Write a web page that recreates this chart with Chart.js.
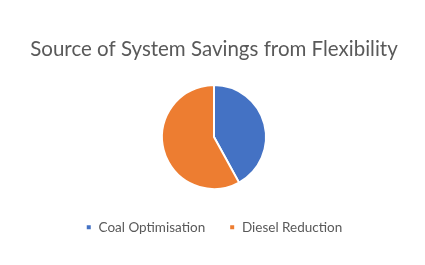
<!DOCTYPE html>
<html>
<head>
<meta charset="utf-8">
<script src="https://cdn.jsdelivr.net/npm/chart.js@4/dist/chart.umd.min.js"></script>
<style>
  html, body { margin: 0; padding: 0; background: #fff; }
  #wrap { width: 425px; height: 265px; }
</style>
</head>
<body>
<div id="wrap"><canvas id="grafico"></canvas></div>
<script>
const categorias = ["Coal Optimisation", "Diesel Reduction"];
const economias = [42, 58];
const cores = ["#4472C4", "#ED7D31"];

const ctx = document.getElementById("grafico").getContext("2d");

new Chart(ctx, {
  type: "pie",
  data: {
    labels: categorias,
    datasets: [
      {
        data: economias,
        backgroundColor: cores,
        borderColor: "#FFF",
        borderWidth: 2,
        radius: 52,
      },
    ],
  },
  options: {
    responsive: true,
    maintainAspectRatio: false,
    animation: false,
    layout: {
      padding: { top: 28, bottom: 21, left: 3, right: 0 },
    },
    plugins: {
      title: {
        display: true,
        text: "Source of System Savings from Flexibility",
        color: "#595959",
        font: { family: "Lato", size: 20.5, weight: "normal" },
        padding: { top: 9, bottom: 16 },
      },
      legend: {
        position: "bottom",
        labels: {
          boxWidth: 6,
          boxHeight: 6,
          padding: 24,
          color: "#595959",
          font: { family: "Lato", size: 13.5 },
        },
      },
      tooltip: { enabled: false },
    },
  },
});
</script>
</body>
</html>
